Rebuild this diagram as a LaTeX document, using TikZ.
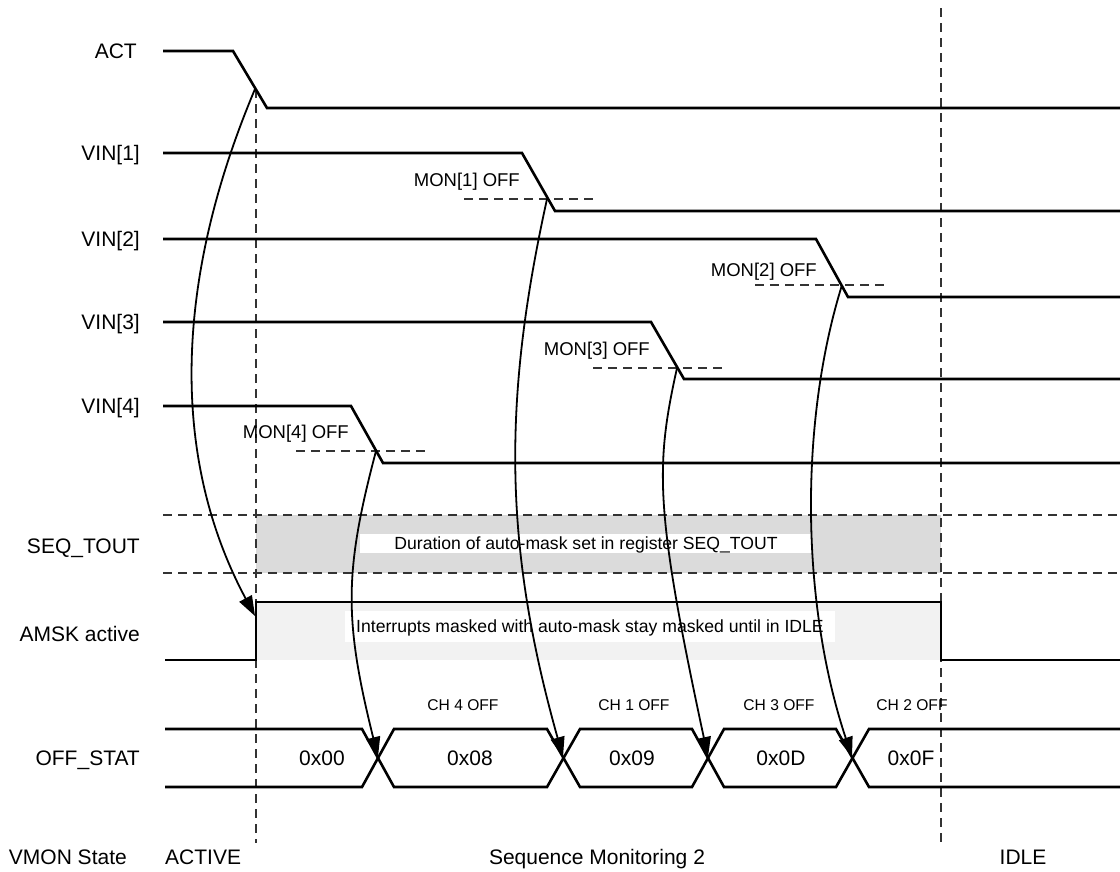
\documentclass[tikz,border=0pt]{standalone}
\usepackage{fontspec}
\setmainfont{Liberation Sans}
\usetikzlibrary{arrows.meta,positioning}

\begin{document}
\begin{tikzpicture}[
  x=1pt, y=-1pt, >={Triangle[length=20pt,width=14pt]},
  wave/.style={line width=2.6pt, line join=miter},
  guide/.style={draw=black!80, line width=1.3pt, dash pattern=on 9pt off 6pt},
  sig/.style={font=\fontsize{21}{24}\selectfont, anchor=east,
    text height=15pt, text depth=0pt, inner sep=0pt},
  mon/.style={font=\fontsize{18.5}{21}\selectfont, anchor=east,
    text height=13.2pt, text depth=0pt, inner sep=0pt},
  ch/.style={font=\fontsize{15.6}{18}\selectfont,
    text height=11.2pt, text depth=0pt, inner sep=0pt},
  val/.style={font=\fontsize{21}{24}\selectfont,
    text height=15pt, text depth=0pt, inner sep=0pt},
  note/.style={font=\fontsize{17.6}{20}\selectfont, fill=white,
    text height=12.6pt, text depth=0pt, inner sep=0pt},
  hop/.style={->, line width=1.8pt}
]
\useasboundingbox (0,0) rectangle (1120,871);
\def\busT{729} \def\busB{787} \def\busM{758}

% shaded windows
\fill[black!14] (256,515) rectangle (941,573);
\fill[black!5] (256,602) rectangle (941,660);

% guides
\draw[guide] (163,515) -- (1120,515);
\draw[guide] (163,573) -- (1120,573);
\draw[guide] (256,89) -- (256,843);
\draw[guide] (941,8) -- (941,843);
\draw[guide] (464,199) -- (597,199);
\draw[guide] (755,285) -- (888,285);
\draw[guide] (593,368) -- (726,368);
\draw[guide] (296,451) -- (429,451);

% signal names
\node[sig] (act)  at (137,51)  {ACT};
\node[sig] (vin1) at (140,153) {VIN[1]};
\node[sig] (vin2) at (140,239) {VIN[2]};
\node[sig] (vin3) at (140,322) {VIN[3]};
\node[sig] (vin4) at (140,406) {VIN[4]};
\node[sig] (tout) at (140,546) {SEQ\_TOUT};
\node[sig] (amsk) at (140,634) {AMSK active};
\node[sig] (stat) at (140,\busM) {OFF\_STAT};

% waveforms
\draw[wave] (163,51) -- (233,51) -- (267,108) -- (1120,108);
\draw[wave] (163,153) -- (522,153) -- (555,211) -- (1120,211);
\draw[wave] (163,239) -- (816,239) -- (848,297) -- (1120,297);
\draw[wave] (163,322) -- (651,322) -- (684,379) -- (1120,379);
\draw[wave] (163,406) -- (351,406) -- (383,463) -- (1120,463);
\draw[wave] (165,660) -- (256,660) -- (256,602) -- (941,602) -- (941,660) -- (1120,660);
\draw[wave] (165,\busT) -- (362,\busT) -- (394,\busB) -- (547,\busB) -- (580,\busT)
  -- (692,\busT) -- (724,\busB) -- (836,\busB) -- (869,\busT) -- (1120,\busT);
\draw[wave] (165,\busB) -- (362,\busB) -- (394,\busT) -- (547,\busT) -- (580,\busB)
  -- (692,\busB) -- (724,\busT) -- (836,\busT) -- (869,\busB) -- (1120,\busB);

% thresholds
\node[mon] (mon1) at (520,180) {MON[1] OFF};
\node[mon] (mon2) at (817,270) {MON[2] OFF};
\node[mon] (mon3) at (650,349) {MON[3] OFF};
\node[mon] (mon4) at (349,432) {MON[4] OFF};

% windows text
\node[note, minimum width=452pt, minimum height=19pt] (dur) at (586,543)
  {Duration of auto-mask set in register SEQ\_TOUT};
\node[note, minimum width=490pt, minimum height=31pt] (msk) at (590,626)
  {Interrupts masked with auto-mask stay masked until in IDLE};

% bus values
\node[val] (v0) at (322,\busM) {0x00};
\node[val] (v1) at (470,\busM) {0x08};
\node[val] (v2) at (632,\busM) {0x09};
\node[val] (v3) at (781,\busM) {0x0D};
\node[val] (v4) at (911,\busM) {0x0F};
\node[ch] (c4) at (463,705) {CH 4 OFF};
\node[ch] (c1) at (634,705) {CH 1 OFF};
\node[ch] (c3) at (779,705) {CH 3 OFF};
\node[ch] (c2) at (912,705) {CH 2 OFF};

% states
\node[sig] (vmon) at (127,857) {VMON State};
\node[sig, anchor=west] (sact) at (165,857) {ACTIVE};
\node[sig, anchor=center] (sseq) at (597,857) {Sequence Monitoring 2};
\node[sig, anchor=center] (sidle) at (1023,857) {IDLE};

% crossing points
\coordinate (act-x) at (255,89);
\coordinate (mon1-x) at (547,199);
\coordinate (mon2-x) at (842,285);
\coordinate (mon3-x) at (677,368);
\coordinate (mon4-x) at (376,451);
\coordinate (amsk-up) at (255,616);
\coordinate (ch4-x) at (378,757);
\coordinate (ch1-x) at (563,757);
\coordinate (ch3-x) at (708,757);
\coordinate (ch2-x) at (852,757);

% causes
\draw[hop] (act-x) .. controls (172,286) and (172,461) .. (amsk-up);
\draw[hop] (mon4-x) .. controls (344,572) and (344,620) .. (ch4-x);
\draw[hop] (mon1-x) .. controls (503,399) and (503,544) .. (ch1-x);
\draw[hop] (mon3-x) .. controls (655,467) and (655,510) .. (ch3-x);
\draw[hop] (mon2-x) .. controls (800,420) and (800,600) .. (ch2-x);
\end{tikzpicture}
\end{document}
